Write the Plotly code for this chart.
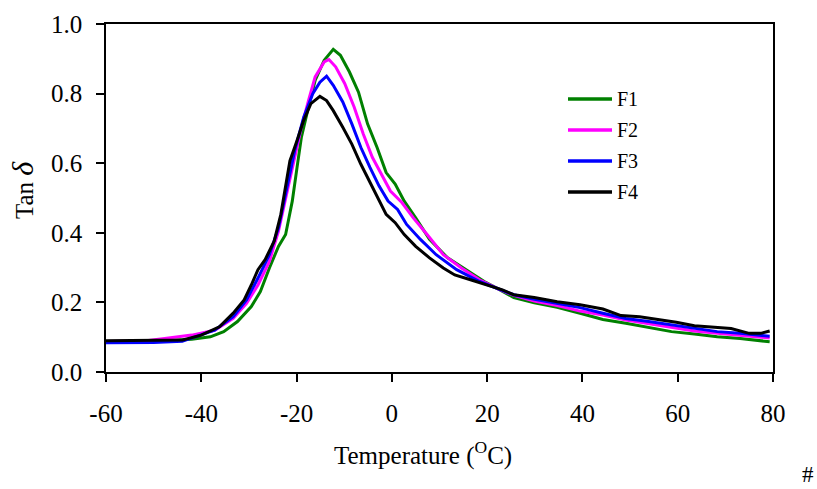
import plotly.graph_objects as go

# Tan delta versus temperature for four formulations (DMA)
temp_f1 = [-60, -50, -42.0, -38.1, -35.3, -32.4, -29.5, -27.6, -25.7, -23.8, -22.3, -20.9, -19.9, -19.0,
           -17.5, -16.1, -14.2, -12.3, -10.8, -8.9, -7.0, -5.1, -3.1, -1.2, 0.7, 2.6, 5.0, 7.9, 11.7,
           15.6, 19.4, 22.3, 25.6, 29.9, 34.7, 39.5, 44.3, 49.1, 53.9, 58.7, 63.5, 68.3, 73.1, 79.3]
tan_f1 = [0.088, 0.089, 0.094, 0.101, 0.116, 0.145, 0.188, 0.231, 0.299, 0.361, 0.395, 0.491, 0.588, 0.674,
          0.761, 0.838, 0.896, 0.927, 0.910, 0.862, 0.804, 0.713, 0.645, 0.573, 0.540, 0.491, 0.443, 0.381, 0.328,
          0.294, 0.260, 0.239, 0.214, 0.199, 0.186, 0.169, 0.151, 0.140, 0.127, 0.116, 0.109, 0.101, 0.096, 0.087]

temp_f2 = [-60, -52, -47.7, -42.0, -37.2, -33.3, -30.5, -28.1, -25.7, -23.8, -21.8, -20.4, -19.0, -17.5,
           -16.1, -14.2, -13.2, -11.8, -9.9, -7.9, -6.0, -4.1, -2.2, -0.3, 2.1, 4.5, 7.4, 10.8, 14.6,
           18.4, 22.3, 25.6, 29.9, 34.7, 39.5, 44.3, 49.1, 53.9, 58.7, 63.5, 68.3, 73.1, 79.3]
tan_f2 = [0.088, 0.089, 0.096, 0.106, 0.120, 0.154, 0.197, 0.250, 0.318, 0.405, 0.530, 0.617, 0.703, 0.780,
          0.848, 0.891, 0.898, 0.877, 0.829, 0.761, 0.684, 0.617, 0.568, 0.520, 0.487, 0.443, 0.395, 0.337, 0.299,
          0.265, 0.239, 0.220, 0.204, 0.191, 0.175, 0.164, 0.149, 0.138, 0.127, 0.118, 0.111, 0.106, 0.098]

temp_f3 = [-60, -50, -44.0, -42.0, -37.2, -33.3, -30.5, -28.1, -25.7, -23.8, -21.8, -20.4, -18.5, -16.6,
           -15.1, -13.7, -12.3, -10.3, -8.4, -6.5, -4.6, -2.7, -0.8, 1.2, 3.1, 6.0, 9.3, 13.6, 18.4,
           22.3, 25.6, 29.9, 34.7, 39.5, 44.3, 49.1, 53.9, 58.7, 63.5, 68.3, 73.1, 79.3]
tan_f3 = [0.084, 0.085, 0.088, 0.098, 0.120, 0.159, 0.207, 0.270, 0.337, 0.414, 0.549, 0.636, 0.732, 0.800,
          0.833, 0.850, 0.824, 0.776, 0.713, 0.645, 0.588, 0.535, 0.491, 0.467, 0.424, 0.381, 0.337, 0.294, 0.260,
          0.239, 0.222, 0.209, 0.197, 0.185, 0.169, 0.154, 0.145, 0.135, 0.125, 0.116, 0.111, 0.103]

temp_f4 = [-60, -50, -43.9, -40.0, -36.2, -33.3, -31.0, -29.5, -28.1, -26.6, -24.7, -23.3, -21.4, -19.9,
           -18.5, -17.0, -15.1, -13.7, -12.3, -10.3, -8.4, -6.5, -4.6, -2.7, -1.2, 0.7, 2.6, 5.0, 7.9,
           10.8, 13.2, 16.5, 20.3, 23.2, 25.6, 29.9, 34.7, 39.5, 44.3, 48.1, 52.0, 55.8, 59.7, 63.5,
           67.3, 71.2, 75.0, 77.4, 79.3]
tan_f4 = [0.090, 0.090, 0.092, 0.106, 0.130, 0.169, 0.207, 0.250, 0.294, 0.323, 0.376, 0.453, 0.607, 0.665,
          0.723, 0.771, 0.792, 0.780, 0.751, 0.703, 0.655, 0.597, 0.544, 0.491, 0.453, 0.429, 0.395, 0.361, 0.328,
          0.299, 0.279, 0.265, 0.249, 0.236, 0.222, 0.214, 0.202, 0.193, 0.181, 0.162, 0.159, 0.152, 0.143, 0.133,
          0.130, 0.125, 0.111, 0.111, 0.118]

series_names = ["F1", "F2", "F3", "F4"]
series_x = [temp_f1, temp_f2, temp_f3, temp_f4]
series_y = [tan_f1, tan_f2, tan_f3, tan_f4]
series_colors = ["#008000", "#FF00FF", "#0000FF", "#000000"]

x_ticks = [-60, -40, -20, 0, 20, 40, 60, 80]
y_ticks = [0.0, 0.2, 0.4, 0.6, 0.8, 1.0]

FONT = "Liberation Serif"
W, H = 817, 489
L, R, T, B = 106, 44, 24, 117
PW, PH = W - L - R, H - T - B


def px_to_paper(px, py):
    """Convert a pixel position on the page into paper coordinates."""
    return (px - L) / PW, (H - B - py) / PH


fig = go.Figure()
for name, xs, ys, color in zip(series_names, series_x, series_y, series_colors):
    fig.add_trace(go.Scatter(
        x=xs, y=ys, name=name, mode="lines",
        line=dict(color=color, width=3), showlegend=False,
    ))

# Key: short coloured strokes with their labels, stacked top to bottom
shapes = []
annotations = []
for i, (name, color) in enumerate(zip(series_names, series_colors)):
    row_y = 99 + 31 * i
    x0, y0 = px_to_paper(568, row_y)
    x1, _ = px_to_paper(612, row_y)
    shapes.append(dict(type="line", xref="paper", yref="paper", x0=x0, x1=x1, y0=y0, y1=y0,
                       line=dict(color=color, width=3.5)))
    tx, _ = px_to_paper(615, row_y)
    annotations.append(dict(text=name, x=tx, y=y0, xref="paper", yref="paper", showarrow=False,
                            xanchor="left", yanchor="middle",
                            font=dict(family=FONT, size=20, color="black")))

xt_x, xt_y = px_to_paper(423, 453)
yt_x, yt_y = px_to_paper(22, 190)
hx, hy = px_to_paper(815, 474)

annotations += [
    dict(text="Temperature (<sup>O</sup>C)", x=xt_x, y=xt_y, xref="paper", yref="paper",
         showarrow=False, xanchor="center", yanchor="middle",
         font=dict(family=FONT, size=25, color="black")),
    dict(text="Tan <i><span style='font-size:30px'>δ</span></i>", x=yt_x, y=yt_y,
         xref="paper", yref="paper", showarrow=False, textangle=-90,
         xanchor="center", yanchor="middle",
         font=dict(family=FONT, size=25, color="black")),
    dict(text="#", x=hx, y=hy, xref="paper", yref="paper", showarrow=False,
         xanchor="right", yanchor="middle", borderpad=0,
         font=dict(family=FONT, size=23, color="black")),
]

fig.update_layout(
    width=W, height=H,
    margin=dict(l=L, r=R, t=T, b=B),
    paper_bgcolor="white", plot_bgcolor="white",
    font=dict(family=FONT, size=25, color="black"),
    showlegend=False,
    shapes=shapes,
    annotations=annotations,
)

fig.update_xaxes(
    range=[-60, 80], tickvals=x_ticks, ticktext=[str(v) for v in x_ticks],
    tickfont=dict(family=FONT, size=25, color="black"),
    showline=True, linecolor="black", linewidth=1.5, mirror=True,
    ticks="outside", ticklen=8, tickwidth=1.5, tickcolor="black",
    ticklabelstandoff=10,
    showgrid=False, zeroline=False,
)
fig.update_yaxes(
    range=[0, 1.0], tickvals=y_ticks, ticktext=[f"{v:.1f}" for v in y_ticks],
    tickfont=dict(family=FONT, size=25, color="black"),
    showline=True, linecolor="black", linewidth=1.5, mirror=True,
    ticks="outside", ticklen=8, tickwidth=1.5, tickcolor="black",
    ticklabelstandoff=9,
    showgrid=False, zeroline=False,
)

fig.write_html("out.html")
